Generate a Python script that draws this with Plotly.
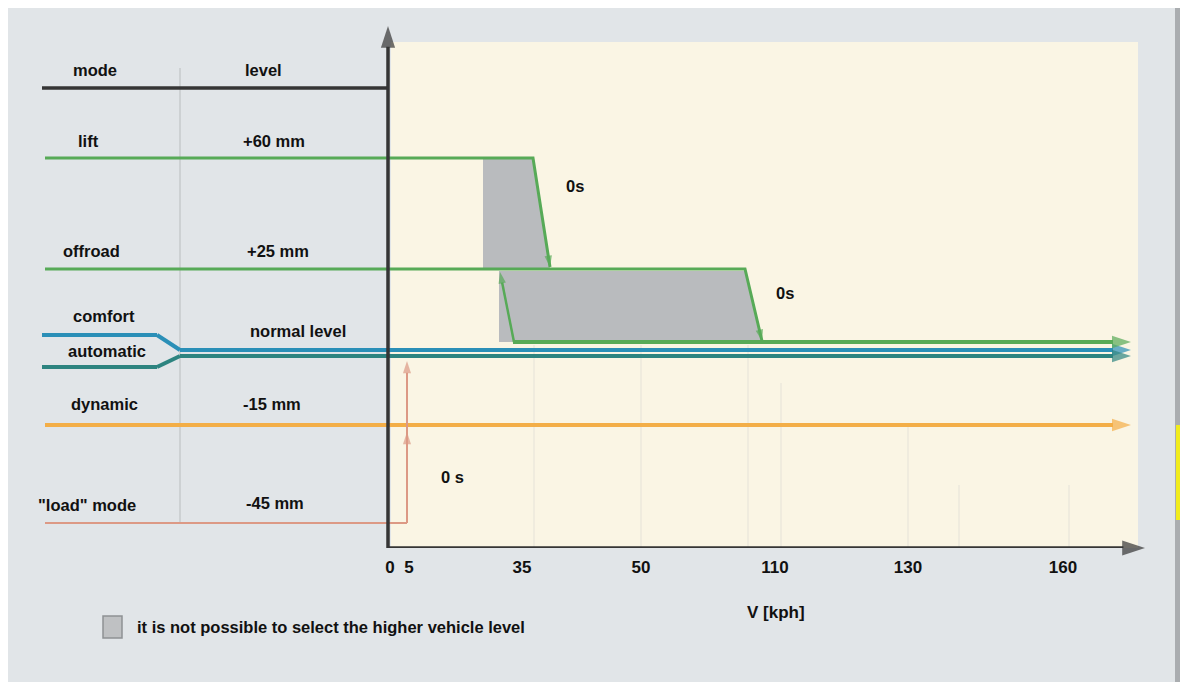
'''
    Ride height modes versus vehicle speed (schematic diagram).
'''
import plotly.graph_objects as go

# speed axis: labels and where each one sits on the drawn axis
speed_labels = ["0", "5", "35", "50", "110", "130", "160"]
speed_x = [390, 409, 522, 641, 775, 908, 1063]

# left table: mode names and level names with their anchor points
mode_names = ["mode", "lift", "offroad", "comfort", "automatic", "dynamic", '"load" mode']
mode_x = [95, 88, 91, 104, 107, 104, 87]
mode_y = [70, 141, 251, 316, 351, 404, 505]
level_names = ["level", "+60 mm", "+25 mm", "normal level", "-15 mm", "-45 mm"]
level_x = [263, 274, 278, 298, 272, 275]
level_y = [70, 141, 251, 331, 404, 503]

# switching delays
delay_text = ["0s", "0s", "0 s"]
delay_x = [575, 785, 452]
delay_y = [186, 293, 477]

# level lines (diagram rows)
header_x = [42, 388]
header_y = [88, 88]
lift_x = [45, 533, 550]
lift_y = [158, 158, 267]
offroad_x = [45, 745, 762]
offroad_y = [269, 269, 341]
offroad_up_x = [514, 500]
offroad_up_y = [342, 272]
normal_x = [513, 1131]
normal_y = [342, 342]
comfort_x = [42, 157, 180, 1131]
comfort_y = [335, 335, 350, 350]
automatic_x = [42, 157, 180, 1131]
automatic_y = [367, 367, 356, 356]
dynamic_x = [45, 1131]
dynamic_y = [425, 425]
load_x = [45, 407, 407, 407]
load_y = [523, 523, 432, 361]

# blocked regions (higher level cannot be selected)
blocked1_x = [483, 533, 550, 483]
blocked1_y = [159, 159, 268, 268]
blocked2_x = [499, 745, 762, 499]
blocked2_y = [271, 271, 342, 342]

# faint speed guides
guide_x = [534, 641, 748, 781, 908, 959, 1069]
guide_top = [345, 345, 345, 383, 425, 485, 485]

GREEN = '#57aa57'
BLUE = '#2a8fb7'
TEAL = '#2d8480'
ORANGE = '#f3ae47'
SALMON = '#dc9985'
DARK = '#353535'
GRAY_FILL = '#b9bbbe'
CREAM = '#faf5e4'
BG = '#e1e5e8'
FONT = 'Liberation Sans'

# page area covered by the plot: x 8..1188, y 8..548
Y_TOP, Y_BOTTOM = 8, 548
FIG_W, FIG_H = 1180, 674


def paper_y(py):
    return (Y_BOTTOM - py) / (Y_BOTTOM - Y_TOP)


fig = go.Figure()


def add_path(xs, ys, color, width, arrows=(), size=12, symbol='arrow'):
    sizes = [size if i in arrows else 0 for i in range(len(xs))]
    fig.add_trace(go.Scatter(
        x=xs, y=ys,
        mode='lines+markers' if arrows else 'lines',
        line=dict(color=color, width=width),
        marker=dict(symbol=symbol, angleref='previous', size=sizes,
                    color=color, line=dict(width=0)),
        cliponaxis=False,
        hoverinfo='skip', showlegend=False
    ))


# cream panel
fig.add_shape(type='rect', xref='x', yref='y', x0=391, x1=1138, y0=42, y1=548,
              fillcolor=CREAM, line=dict(width=0), layer='below')

# guides
gx, gy = [], []
for x, top in zip(guide_x, guide_top):
    gx += [x, x, None]
    gy += [top, 548, None]
fig.add_trace(go.Scatter(x=gx, y=gy, mode='lines',
                         line=dict(color='#e5e2d8', width=1),
                         hoverinfo='skip', showlegend=False))

# column divider
add_path([180, 180], [68, 522], '#c6cacd', 1.5)

for bx, by in [(blocked1_x, blocked1_y), (blocked2_x, blocked2_y)]:
    fig.add_trace(go.Scatter(x=bx, y=by, fill='toself', fillcolor=GRAY_FILL,
                             mode='lines', line=dict(width=0),
                             hoverinfo='skip', showlegend=False))

add_path(header_x, header_y, DARK, 3.5)
add_path(lift_x, lift_y, GREEN, 3, arrows=(2,), size=12)
add_path(offroad_x, offroad_y, GREEN, 3, arrows=(2,), size=12)
add_path(offroad_up_x, offroad_up_y, GREEN, 2.5, arrows=(1,), size=12)
add_path(comfort_x, comfort_y, BLUE, 4, arrows=(3,), size=20)
add_path(automatic_x, automatic_y, TEAL, 4, arrows=(3,), size=20)
add_path(normal_x, normal_y, GREEN, 4, arrows=(1,), size=20)
add_path(dynamic_x, dynamic_y, ORANGE, 4, arrows=(1,), size=20)
add_path(load_x, load_y, SALMON, 2, arrows=(2, 3), size=13)

# axes drawn as arrows
add_path([388, 388], [548, 26], DARK, 3.5, arrows=(1,), size=23)
add_path([388, 1145], [548, 548], DARK, 3.5, arrows=(1,), size=24)

text_font = dict(family=FONT, size=16.5, color='#111111', weight='bold')
for names, xs, ys in [(mode_names, mode_x, mode_y),
                      (level_names, level_x, level_y),
                      (delay_text, delay_x, delay_y)]:
    for t, x, y in zip(names, xs, ys):
        fig.add_annotation(x=x, y=y, text=t, showarrow=False, font=text_font,
                           xanchor='center', yanchor='middle')

fig.add_annotation(x=776, y=paper_y(612), yref='paper', text='V [kph]', showarrow=False,
                   font=dict(family=FONT, size=17, color='#111111', weight='bold'),
                   yanchor='middle')
fig.add_annotation(x=135, y=paper_y(627), yref='paper',
                   text='it is not possible to select the higher vehicle level',
                   showarrow=False, xanchor='left', yanchor='middle', font=text_font)

# legend swatch
fig.add_shape(type='rect', xref='x', yref='paper', x0=103, x1=122,
              y0=paper_y(638), y1=paper_y(616),
              fillcolor='#bfc1c3', line=dict(color='#8e9194', width=1.5))

# right page edge (last visible pixels)
fig.add_shape(type='rect', xref='x', yref='paper', x0=1175, x1=1181,
              y0=paper_y(8 + FIG_H), y1=1,
              fillcolor='#aaadb0', line=dict(width=0))
fig.add_shape(type='rect', xref='x', yref='paper', x0=1176, x1=1181,
              y0=paper_y(520), y1=paper_y(425),
              fillcolor='#f1ec1d', line=dict(width=0))

fig.update_xaxes(range=[8, 8 + FIG_W], showgrid=False, zeroline=False, showline=False,
                 tickvals=speed_x, ticktext=speed_labels, ticks='outside', ticklen=4,
                 tickcolor='rgba(0,0,0,0)',
                 tickfont=dict(family=FONT, size=17, color='#111111', weight='bold'))
fig.update_yaxes(range=[Y_BOTTOM, Y_TOP], visible=False)

fig.update_layout(
    width=FIG_W, height=FIG_H,
    margin=dict(l=0, r=0, t=0, b=FIG_H - (Y_BOTTOM - Y_TOP)),
    paper_bgcolor=BG, plot_bgcolor=BG,
    showlegend=False, dragmode=False,
)

fig.write_html("out.html")
